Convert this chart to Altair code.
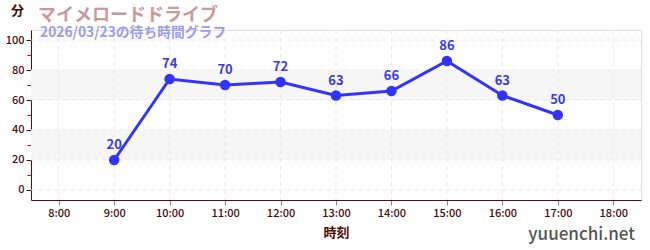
import altair as alt
import pandas as pd

hours = [9, 10, 11, 12, 13, 14, 15, 16, 17]
waits = [20, 74, 70, 72, 63, 66, 86, 63, 50]
band_lo = [20, 60]
band_hi = [40, 80]
x_ticks = [8, 9, 10, 11, 12, 13, 14, 15, 16, 17, 18]
y_ticks = [0, 20, 40, 60, 80, 100]
y_minor = [10, 30, 50, 70, 90]

df = pd.DataFrame({"h": hours, "w": waits})
bands = pd.DataFrame({"lo": band_lo, "hi": band_hi})

W, H = 610, 170
FONT = "Noto Sans CJK JP"
AX = "#4a0b0b"
GRID = "#e8e8e8"

xs = alt.Scale(domain=[7.5, 18.5], nice=False, zero=False)
ys = alt.Scale(domain=[-6.7, 106.7], nice=False, zero=False)

xaxis = alt.Axis(values=x_ticks, labelExpr="datum.value + ':00'", title="時刻",
                 grid=False, labelOverlap=False,
                 domainColor="#5a0a0a", tickColor="#888888", tickSize=5,
                 labelColor=AX, labelFontSize=11, labelFont=FONT, labelFontWeight=500,
                 titleColor=AX, titleFont=FONT, titleFontSize=13, titleFontWeight="bold",
                 titlePadding=8)
yaxis = alt.Axis(values=y_ticks, title="分", titleAngle=0, titleX=-14, titleY=-13,
                 titleAlign="center", titleColor=AX, titleFont=FONT, titleFontSize=13,
                 titleFontWeight="bold", orient="left", labelOverlap=False,
                 grid=False,
                 domainColor="#5a0a0a", tickColor="#222222", tickSize=5,
                 labelColor=AX, labelFontSize=11, labelFont=FONT, labelFontWeight=500)
minor_axis = alt.Axis(values=y_minor, labels=False, domain=False, orient="left",
                      grid=False, tickColor="#dd0000", tickSize=4, title=None)

band = alt.Chart(bands).mark_rect(color="#f6f6f6").encode(
    x=alt.value(0), x2=alt.value(W),
    y=alt.Y("lo:Q", scale=ys, axis=yaxis), y2="hi:Q")

ygrid = alt.Chart(pd.DataFrame({"g": y_ticks})).mark_rule(
    color=GRID, strokeDash=[4, 4], strokeWidth=1).encode(
    x=alt.value(0), x2=alt.value(W), y=alt.Y("g:Q", scale=ys, axis=minor_axis))

xgrid = alt.Chart(pd.DataFrame({"g": x_ticks})).mark_rule(
    color=GRID, strokeDash=[4, 4], strokeWidth=1).encode(
    x=alt.X("g:Q", scale=xs, axis=xaxis), y=alt.value(0), y2=alt.value(H))

base = alt.Chart(df).encode(
    x=alt.X("h:Q", scale=xs),
    y=alt.Y("w:Q", scale=ys, axis=None))

line = base.mark_line(color="#3333ff", strokeWidth=3)
pts = base.mark_circle(color="#3333ff", size=110, opacity=1)
lbl = base.mark_text(color="#3a3ae6", fontSize=13, fontWeight="bold", font=FONT, dy=-15).encode(
    text="w:Q")

title = alt.Chart(pd.DataFrame({"t": ["マイメロードドライブ"]})).mark_text(
    align="left", baseline="alphabetic", fontSize=18, fontWeight="bold", font=FONT,
    color="#c89a9c").encode(x=alt.value(7), y=alt.value(-9), text="t:N")
sub = alt.Chart(pd.DataFrame({"t": ["2026/03/23の待ち時間グラフ"]})).mark_text(
    align="left", baseline="alphabetic", fontSize=13.8, fontWeight="bold", font=FONT,
    color="#9b9bf2").encode(x=alt.value(9), y=alt.value(7), text="t:N")
mark = alt.Chart(pd.DataFrame({"t": ["yuuenchi.net"]})).mark_text(
    align="right", baseline="alphabetic", fontSize=17, font=FONT, fontWeight=500,
    color="#555555").encode(x=alt.value(W - 6), y=alt.value(H + 40), text="t:N")

chart = alt.layer(band, ygrid, xgrid, line, pts, lbl, title, sub, mark).resolve_axis(
    y="independent").properties(
    width=W, height=H,
    autosize=alt.AutoSizeParams(type="none"),
    padding={"left": 31, "top": 30, "right": 9, "bottom": 50},
).configure_view(stroke="transparent", strokeWidth=0).configure(background="white")

chart.save("out.html", embed_options={"renderer": "svg", "actions": False})
